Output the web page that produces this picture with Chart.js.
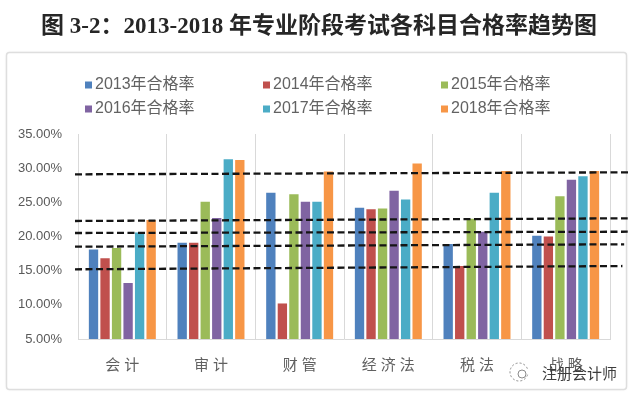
<!DOCTYPE html>
<html>
<head>
<meta charset="utf-8">
<script src="https://cdn.jsdelivr.net/npm/chart.js@4/dist/chart.umd.min.js"></script>
<style>
html,body{margin:0;padding:0;background:#fff;}
#wrap{width:633px;height:399px;position:relative;}
</style>
</head>
<body>
<div id="wrap"><canvas id="c" width="633" height="399"></canvas></div>
<script>
// ---- data ----
const categories = ['会计', '审计', '财管', '经济法', '税法', '战略'];
const seriesNames = ['2013年合格率', '2014年合格率', '2015年合格率', '2016年合格率', '2017年合格率', '2018年合格率'];
const rate2013 = [18.1, 19.1, 26.4, 24.2, 18.9, 20.1];
const rate2014 = [16.8, 19.1, 10.2, 24.0, 15.7, 20.0];
const rate2015 = [18.3, 25.1, 26.2, 24.1, 22.6, 25.9];
const rate2016 = [13.2, 22.7, 25.1, 26.7, 20.7, 28.3];
const rate2017 = [20.6, 31.3, 25.1, 25.4, 26.4, 28.8];
const rate2018 = [22.4, 31.2, 29.5, 30.7, 29.6, 29.6];
const yTickLabels = ['5.00%', '10.00%', '15.00%', '20.00%', '25.00%', '30.00%', '35.00%'];
// hand-drawn dashed reference lines (value at left end, value at right end, category index of ends)
const refLineStartValue = [29.1, 22.27, 20.51, 18.51, 15.2];
const refLineEndValue = [29.39, 22.66, 20.7, 18.86, 15.68];
const refLineStartCat = [-0.534, -0.534, -0.534, -0.534, -0.534];
const refLineEndCat = [5.72, 5.70, 5.70, 5.66, 5.64];
const titleText = '图 3-2：2013-2018 年专业阶段考试各科目合格率趋势图';
const watermarkText = '注册会计师';

const colors = ['#4F81BD', '#C0504D', '#9BBB59', '#8064A2', '#4BACC6', '#F79646'];
const allSeries = [rate2013, rate2014, rate2015, rate2016, rate2017, rate2018];

const cardPlugin = {
  id: 'card',
  beforeDraw(chart) {
    const ctx = chart.ctx;
    ctx.save();
    ctx.fillStyle = '#ffffff';
    ctx.fillRect(0, 0, chart.width, chart.height);
    ctx.shadowColor = 'rgba(0,0,0,0.08)';
    ctx.shadowBlur = 3;
    ctx.beginPath();
    ctx.roundRect(6.5, 52.5, 620, 337, 3);
    ctx.fillStyle = '#ffffff';
    ctx.fill();
    ctx.shadowColor = 'transparent';
    ctx.strokeStyle = '#dedede';
    ctx.lineWidth = 1.5;
    ctx.stroke();
    // title
    ctx.font = "bold 23px 'Liberation Serif', 'Noto Sans CJK SC'";
    ctx.fillStyle = '#262626';
    ctx.textAlign = 'center';
    ctx.textBaseline = 'middle';
    ctx.fillText(titleText, 319, 27);
    ctx.restore();
  },
  afterLayout(chart) {
    const xs = chart.scales.x;
    if (xs && !xs._lsWrapped) {
      const orig = xs.drawLabels;
      xs.drawLabels = function (area) {
        const ctx = this.ctx;
        ctx.save();
        ctx.letterSpacing = '4px';
        ctx.translate(2, 0);
        orig.call(this, area);
        ctx.restore();
      };
      xs._lsWrapped = true;
    }
  }
};

const legendPlugin = {
  id: 'gridLegend',
  afterDraw(chart) {
    const ctx = chart.ctx;
    ctx.save();
    ctx.font = "16px 'Liberation Sans', 'Noto Sans CJK SC'";
    ctx.textBaseline = 'middle';
    ctx.textAlign = 'left';
    chart.data.datasets.forEach((ds, i) => {
      const col = i % 3, row = Math.floor(i / 3);
      const x = 85 + col * 178;
      const y = 85 + row * 24;
      ctx.fillStyle = ds.backgroundColor;
      ctx.fillRect(x, y - 3.5, 7, 7);
      ctx.fillStyle = '#626262';
      ctx.fillText(ds.label, x + 10, y);
    });
    ctx.restore();
  }
};

const refLinePlugin = {
  id: 'refLines',
  afterDatasetsDraw(chart) {
    const ctx = chart.ctx;
    const xs = chart.scales.x, ys = chart.scales.y;
    ctx.save();
    ctx.strokeStyle = '#151515';
    ctx.lineWidth = 2.3;
    ctx.setLineDash([7, 3.5]);
    refLineStartValue.forEach((v, i) => {
      ctx.beginPath();
      ctx.moveTo(xs.getPixelForValue(refLineStartCat[i]), ys.getPixelForValue(v));
      ctx.lineTo(xs.getPixelForValue(refLineEndCat[i]), ys.getPixelForValue(refLineEndValue[i]));
      ctx.stroke();
    });
    ctx.restore();
  }
};

const watermarkPlugin = {
  id: 'watermark',
  afterDraw(chart) {
    const ctx = chart.ctx;
    ctx.save();
    ctx.strokeStyle = '#8a8a8a';
    ctx.lineWidth = 1;
    ctx.setLineDash([2, 2]);
    ctx.beginPath();
    ctx.arc(519, 372, 9, 0.3, Math.PI * 2 - 0.3);
    ctx.stroke();
    ctx.setLineDash([]);
    ctx.beginPath();
    ctx.arc(522, 374, 4, 0, Math.PI * 2);
    ctx.stroke();
    ctx.font = "15px 'Noto Sans CJK SC'";
    ctx.fillStyle = '#3c3c3c';
    ctx.textBaseline = 'middle';
    ctx.textAlign = 'left';
    ctx.fillText(watermarkText, 542, 373);
    ctx.restore();
  }
};

new Chart(document.getElementById('c'), {
  type: 'bar',
  data: {
    labels: categories,
    datasets: allSeries.map((d, i) => ({
      label: seriesNames[i],
      data: d,
      backgroundColor: colors[i],
      borderWidth: 0,
      barPercentage: 0.81,
      categoryPercentage: 0.78
    }))
  },
  options: {
    responsive: false,
    animation: false,
    devicePixelRatio: 1,
    layout: { padding: { left: 0, right: 23, top: 134, bottom: 0 } },
    plugins: {
      legend: { display: false },
      tooltip: { enabled: false },
      title: { display: false }
    },
    scales: {
      x: {
        grid: { color: '#d9d9d9', offset: true, drawTicks: false },
        border: { color: '#d9d9d9' },
        ticks: { color: '#606060', padding: 16, font: { family: "'Noto Sans CJK SC'", size: 15 } },
        afterFit(s) { s.height = 60; }
      },
      y: {
        min: 5,
        max: 35,
        grid: { display: false, drawTicks: false },
        border: { display: false },
        ticks: {
          stepSize: 5,
          padding: 16,
          color: '#595959',
          font: { family: "'Liberation Sans'", size: 13 },
          callback: (v, i) => yTickLabels[i]
        },
        afterFit(s) { s.width = 78; }
      }
    }
  },
  plugins: [cardPlugin, refLinePlugin, legendPlugin, watermarkPlugin]
});
</script>
</body>
</html>
